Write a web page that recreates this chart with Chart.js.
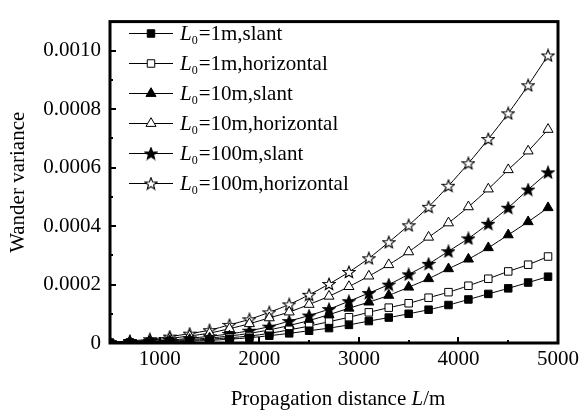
<!DOCTYPE html>
<html>
<head>
<meta charset="utf-8">
<script src="https://cdn.jsdelivr.net/npm/chart.js@4/dist/chart.umd.min.js"></script>
<style>
  html, body { margin: 0; padding: 0; background: #fff; }
  #wrap { width: 583px; height: 411px; }
</style>
</head>
<body>
<div id="wrap"><canvas id="wander-graph"></canvas></div>
<script>
/* global Chart */

// propagation distance L (m)
const distance = [500, 700, 900, 1100, 1300, 1500, 1700, 1900, 2100, 2300, 2500, 2700,
  2900, 3100, 3300, 3500, 3700, 3900, 4100, 4300, 4500, 4700, 4900];

// wander variance
const slant1 = [0.000001, 0.000001, 0.000003, 0.000004, 0.000006, 0.000009, 0.000013, 0.000018,
  0.000025, 0.000033, 0.000042, 0.000051, 0.000062, 0.000075, 0.000087, 0.000100, 0.000114,
  0.000130, 0.000149, 0.000168, 0.000187, 0.000207, 0.000227];
const horiz1 = [0.000001, 0.000002, 0.000004, 0.000006, 0.000009, 0.000013, 0.000018, 0.000024,
  0.000033, 0.000045, 0.000058, 0.000073, 0.000088, 0.000105, 0.000121, 0.000136, 0.000155,
  0.000174, 0.000196, 0.000220, 0.000245, 0.000268, 0.000296];
const slant10 = [0.000001, 0.000002, 0.000005, 0.000008, 0.000012, 0.000017, 0.000024, 0.000033,
  0.000045, 0.000060, 0.000077, 0.000097, 0.000119, 0.000140, 0.000163, 0.000191, 0.000220,
  0.000254, 0.000287, 0.000326, 0.000370, 0.000415, 0.000463];
const horiz10 = [0.000002, 0.000005, 0.000010, 0.000016, 0.000024, 0.000034, 0.000049, 0.000066,
  0.000086, 0.000106, 0.000132, 0.000160, 0.000193, 0.000229, 0.000268, 0.000312, 0.000362,
  0.000411, 0.000466, 0.000527, 0.000593, 0.000657, 0.000731];
const slant100 = [0.000001, 0.000003, 0.000006, 0.000010, 0.000016, 0.000023, 0.000031, 0.000042,
  0.000056, 0.000075, 0.000094, 0.000116, 0.000143, 0.000171, 0.000200, 0.000235, 0.000271,
  0.000314, 0.000358, 0.000408, 0.000463, 0.000525, 0.000584];
const horiz100 = [0.000003, 0.000007, 0.000013, 0.000022, 0.000032, 0.000044, 0.000062, 0.000081,
  0.000105, 0.000132, 0.000165, 0.000202, 0.000243, 0.000290, 0.000345, 0.000403, 0.000466,
  0.000538, 0.000615, 0.000698, 0.000786, 0.000882, 0.000984];

const seriesNames = ['=1m,slant', '=1m,horizontal', '=10m,slant', '=10m,horizontal',
  '=100m,slant', '=100m,horizontal'];
const xTicks = [1000, 2000, 3000, 4000, 5000];
const yTicks = [0, 0.0002, 0.0004, 0.0006, 0.0008, 0.0010];

const FONT = '"Liberation Serif", "Times New Roman", serif';

function starImage(filled) {
  const c = document.createElement('canvas');
  c.width = 14; c.height = 14;
  const g = c.getContext('2d');
  g.beginPath();
  for (let i = 0; i < 10; i++) {
    const r = i % 2 ? 2.7 : 6.3;
    const a = -Math.PI / 2 + i * Math.PI / 5;
    g.lineTo(7 + r * Math.cos(a), 7.5 + r * Math.sin(a));
  }
  g.closePath();
  g.fillStyle = filled ? '#000' : '#fff';
  g.fill();
  g.lineWidth = 1.1;
  g.strokeStyle = '#000';
  g.stroke();
  return c;
}

const markers = [
  { style: 'rect', fill: '#000', r: 5.3 },
  { style: 'rect', fill: '#fff', r: 5.3 },
  { style: 'triangle', fill: '#000', r: 5.8 },
  { style: 'triangle', fill: '#fff', r: 5.8 },
  { style: starImage(true), fill: '#000', r: 6 },
  { style: starImage(false), fill: '#fff', r: 6 },
];
const series = [slant1, horiz1, slant10, horiz10, slant100, horiz100];

function drawMarker(ctx, m, x, y) {
  ctx.save();
  ctx.fillStyle = m.fill;
  ctx.strokeStyle = '#000';
  ctx.lineWidth = 1;
  if (m.style === 'rect') {
    const s = Math.SQRT1_2 * m.r;
    ctx.beginPath();
    ctx.rect(x - s, y - s, 2 * s, 2 * s);
    ctx.fill(); ctx.stroke();
  } else if (m.style === 'triangle') {
    ctx.beginPath();
    for (let k = 0; k < 3; k++) {
      const a = -Math.PI / 2 + k * 2 * Math.PI / 3;
      ctx.lineTo(x + m.r * Math.cos(a), y + m.r * Math.sin(a));
    }
    ctx.closePath();
    ctx.fill(); ctx.stroke();
  } else {
    ctx.drawImage(m.style, x - m.style.width / 2, y - m.style.height / 2);
  }
  ctx.restore();
}

// L0 label: italic L, subscript 0, then the rest
function drawL0(ctx, x, y, rest) {
  ctx.font = 'italic 21px ' + FONT;
  ctx.fillText('L', x, y);
  x += ctx.measureText('L').width;
  ctx.font = '12px ' + FONT;
  ctx.fillText('0', x, y + 4);
  x += ctx.measureText('0').width + 1;
  ctx.font = '21px ' + FONT;
  ctx.fillText(rest, x, y);
}

const decorations = {
  id: 'decorations',
  afterDraw(chart) {
    const ctx = chart.ctx;
    const a = chart.chartArea;
    const xs = chart.scales.x, ys = chart.scales.y;
    ctx.save();
    ctx.strokeStyle = '#000';
    ctx.fillStyle = '#000';

    // inward ticks
    ctx.lineWidth = 2;
    for (let v = 0.0001; v < 0.00105; v += 0.0001) {
      const py = Math.round(ys.getPixelForValue(v));
      const major = Math.round(v * 10000) % 2 === 0;
      ctx.beginPath();
      ctx.moveTo(a.left, py);
      ctx.lineTo(a.left + (major ? 6 : 3), py);
      ctx.stroke();
    }
    for (let v = 1000; v < 5000; v += 500) {
      const px = Math.round(xs.getPixelForValue(v));
      const major = v % 1000 === 0;
      ctx.beginPath();
      ctx.moveTo(px, a.bottom);
      ctx.lineTo(px, a.bottom - (major ? 6 : 3));
      ctx.stroke();
    }

    // frame
    ctx.lineWidth = 3;
    ctx.strokeRect(a.left, a.top, a.right - a.left, a.bottom - a.top);

    // legend
    ctx.textBaseline = 'alphabetic';
    ctx.textAlign = 'left';
    for (let i = 0; i < seriesNames.length; i++) {
      const cy = 33.5 + i * 30;
      ctx.lineWidth = 1;
      ctx.beginPath();
      ctx.moveTo(129, cy);
      ctx.lineTo(173, cy);
      ctx.stroke();
      drawMarker(ctx, markers[i], 151, cy);
      drawL0(ctx, 180, cy + 6.5, seriesNames[i]);
    }

    // x title
    const parts = [['Propagation distance ', ''], ['L', 'italic '], ['/m', '']];
    let total = 0;
    parts.forEach(p => { ctx.font = p[1] + '21px ' + FONT; total += ctx.measureText(p[0]).width; });
    let tx = (a.left + a.right) / 2 - total / 2 + 4;
    parts.forEach(p => {
      ctx.font = p[1] + '21px ' + FONT;
      ctx.fillText(p[0], tx, 405);
      tx += ctx.measureText(p[0]).width;
    });

    // y title
    ctx.translate(18, (a.top + a.bottom) / 2);
    ctx.rotate(-Math.PI / 2);
    ctx.textAlign = 'center';
    ctx.textBaseline = 'middle';
    ctx.font = '21px ' + FONT;
    ctx.fillText('Wander variance', 0, 0);
    ctx.restore();
  }
};

const datasets = series.map((s, i) => ({
  label: seriesNames[i],
  data: distance.map((x, j) => ({ x: x, y: s[j] })),
  borderColor: '#000',
  borderWidth: 1,
  backgroundColor: markers[i].fill,
  pointStyle: markers[i].style,
  pointRadius: markers[i].r,
  pointBorderColor: '#000',
  pointBorderWidth: 1,
  tension: 0.3,
  fill: false,
}));

new Chart('wander-graph', {
  type: 'line',
  data: { datasets: datasets },
  options: {
    responsive: true,
    maintainAspectRatio: false,
    animation: false,
    layout: { padding: { top: 10, right: 22, left: 0, bottom: 0 } },
    plugins: { legend: { display: false }, tooltip: { enabled: false } },
    scales: {
      x: {
        type: 'linear',
        min: 500,
        max: 5000,
        afterBuildTicks: s => { s.ticks = xTicks.map(v => ({ value: v })); },
        afterFit: s => { s.height = 68; },
        grid: { display: false, drawTicks: false },
        border: { display: false },
        ticks: {
          color: '#000',
          font: { family: FONT, size: 21 },
          padding: 4,
          maxRotation: 0,
          callback: v => String(v),
        },
      },
      y: {
        type: 'linear',
        min: 0,
        max: 0.0011,
        afterBuildTicks: s => { s.ticks = yTicks.map(v => ({ value: v })); },
        afterFit: s => { s.width = 110; },
        grid: { display: false, drawTicks: false },
        border: { display: false },
        ticks: {
          color: '#000',
          font: { family: FONT, size: 21 },
          padding: 9,
          callback: v => (v === 0 ? '0' : v.toFixed(4)),
        },
      },
    },
  },
  plugins: [decorations],
});
</script>
</body>
</html>
